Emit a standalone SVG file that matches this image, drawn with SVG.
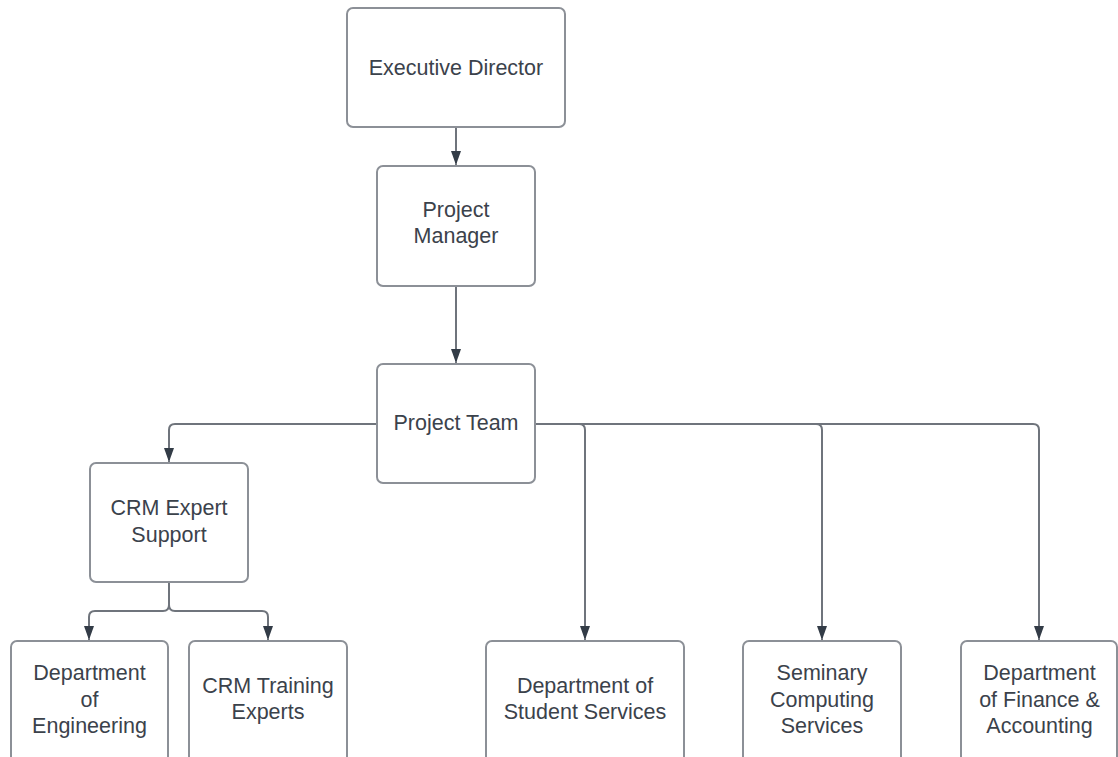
<svg xmlns="http://www.w3.org/2000/svg" width="1118" height="757" viewBox="0 0 1118 757">
  <style>
    .box { fill: #ffffff; stroke: #8c9097; stroke-width: 2; }
    .lbl { font-family: "Liberation Sans", Arial, sans-serif; font-size: 21.5px; fill: #3b424b; text-anchor: middle; }
    .conn { fill: none; stroke: #6f747c; stroke-width: 2; }
  </style>
  <defs>
    <marker id="arrow" markerUnits="userSpaceOnUse" markerWidth="12" markerHeight="16" viewBox="0 0 12 16" refX="14" refY="6" orient="auto">
      <path d="M0,1 L14,6 L0,11 Z" fill="#333c47"/>
    </marker>
  </defs>
  <rect width="1118" height="757" fill="#ffffff"/>

  <g id="connectors">
    <path class="conn" d="M456,127 V165" marker-end="url(#arrow)"/>
    <path class="conn" d="M456,286 V363" marker-end="url(#arrow)"/>
    <path class="conn" d="M377,424 H175 Q169,424 169,430 V462" marker-end="url(#arrow)"/>
    <path class="conn" d="M535,424 H579 Q585,424 585,430 V640" marker-end="url(#arrow)"/>
    <path class="conn" d="M535,424 H816 Q822,424 822,430 V640" marker-end="url(#arrow)"/>
    <path class="conn" d="M535,424 H1033 Q1039,424 1039,430 V640" marker-end="url(#arrow)"/>
    <path class="conn" d="M169,582 V605 Q169,611 163,611 H95 Q89,611 89,617 V640" marker-end="url(#arrow)"/>
    <path class="conn" d="M169,582 V605 Q169,611 175,611 H262 Q268,611 268,617 V640" marker-end="url(#arrow)"/>
  </g>

  <g id="executive-director">
    <rect class="box" x="347" y="8" width="218" height="119" rx="6"/>
    <text class="lbl" x="456" y="75">Executive Director</text>
  </g>
  <g id="project-manager">
    <rect class="box" x="377" y="166" width="158" height="120" rx="6"/>
    <text class="lbl" x="456" y="217">Project</text>
    <text class="lbl" x="456" y="243">Manager</text>
  </g>
  <g id="project-team">
    <rect class="box" x="377" y="364" width="158" height="119" rx="6"/>
    <text class="lbl" x="456" y="430">Project Team</text>
  </g>
  <g id="crm-expert-support">
    <rect class="box" x="90" y="463" width="158" height="119" rx="6"/>
    <text class="lbl" x="169" y="515">CRM Expert</text>
    <text class="lbl" x="169" y="542">Support</text>
  </g>
  <g id="dept-engineering">
    <rect class="box" x="11" y="641" width="157" height="140" rx="6"/>
    <text class="lbl" x="89.5" y="680">Department</text>
    <text class="lbl" x="89.5" y="707">of</text>
    <text class="lbl" x="89.5" y="733">Engineering</text>
  </g>
  <g id="crm-training-experts">
    <rect class="box" x="189" y="641" width="158" height="140" rx="6"/>
    <text class="lbl" x="268" y="693">CRM Training</text>
    <text class="lbl" x="268" y="719">Experts</text>
  </g>
  <g id="dept-student-services">
    <rect class="box" x="486" y="641" width="198" height="140" rx="6"/>
    <text class="lbl" x="585" y="693">Department of</text>
    <text class="lbl" x="585" y="719">Student Services</text>
  </g>
  <g id="seminary-computing">
    <rect class="box" x="743" y="641" width="158" height="140" rx="6"/>
    <text class="lbl" x="822" y="680">Seminary</text>
    <text class="lbl" x="822" y="707">Computing</text>
    <text class="lbl" x="822" y="733">Services</text>
  </g>
  <g id="dept-finance-accounting">
    <rect class="box" x="961" y="641" width="156" height="140" rx="6"/>
    <text class="lbl" x="1039.5" y="680">Department</text>
    <text class="lbl" x="1039.5" y="707">of Finance &amp;</text>
    <text class="lbl" x="1039.5" y="733">Accounting</text>
  </g>
</svg>
